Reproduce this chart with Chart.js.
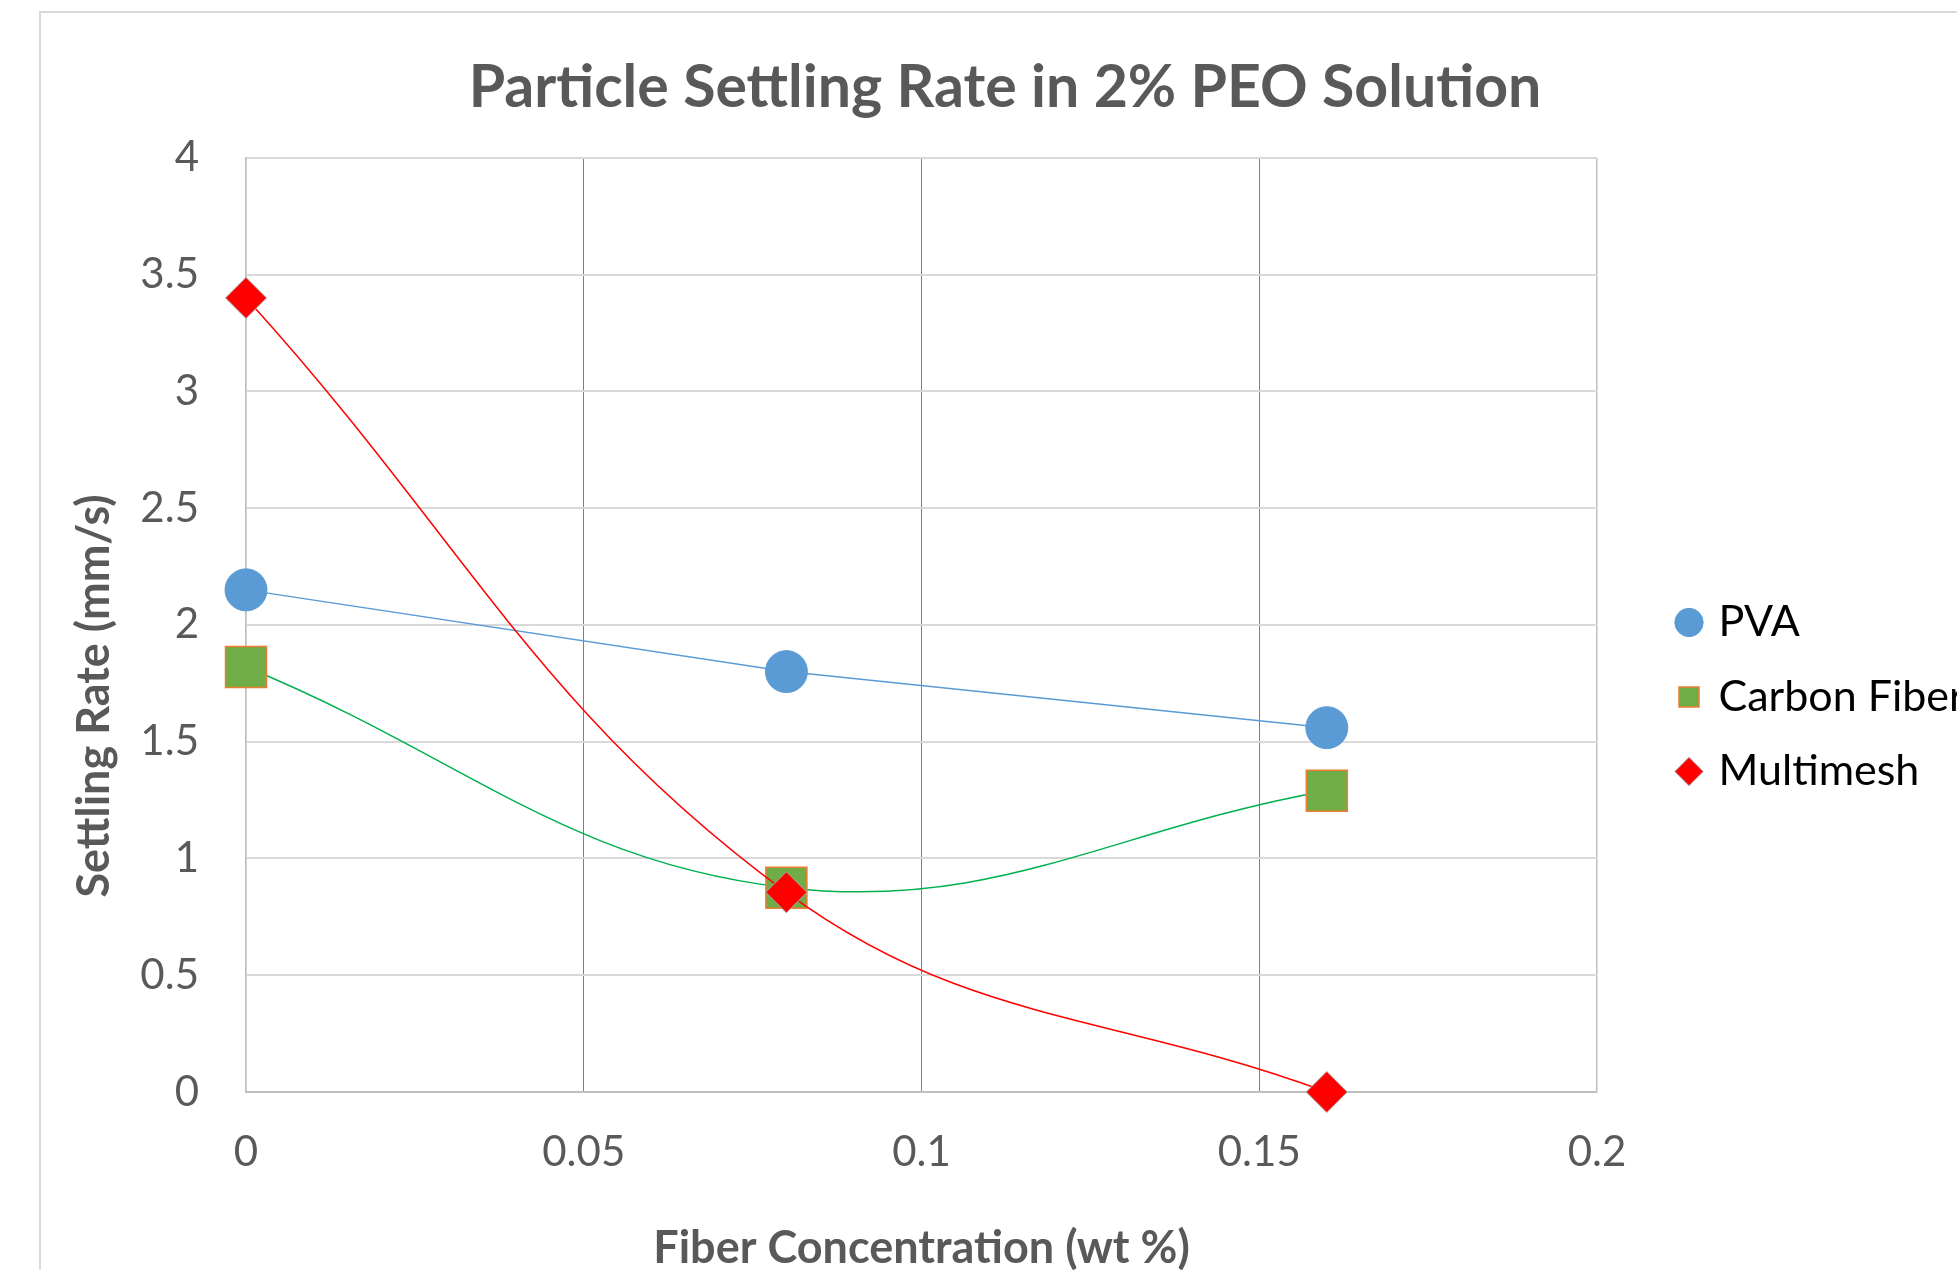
<!DOCTYPE html>
<html>
<head>
<meta charset="utf-8">
<title>Particle Settling Rate in 2% PEO Solution</title>
<script src="https://cdn.jsdelivr.net/npm/chart.js@4.4.1/dist/chart.umd.min.js"></script>
<style>
  html, body { margin: 0; padding: 0; background: #fff; overflow: hidden; width: 1957px; height: 1270px; }
  #frame { position: absolute; left: 39px; top: 11px; border-left: 2px solid #d9d9d9; border-top: 2px solid #d9d9d9; }
  canvas { display: block; }
</style>
</head>
<body>
<div id="frame"><canvas id="settlingChart" width="1928" height="1368"></canvas></div>
<script>
// fiber concentration (wt %) and settling rate (mm/s)
const concentrations = [0, 0.08, 0.16];
const pvaRates = [2.15, 1.80, 1.56];
const carbonFiberRates = [1.82, 0.875, 1.29];
const multimeshRates = [3.40, 0.855, 0];
const seriesNames = ['PVA', 'Carbon Fiber', 'Multimesh'];
const xTickLabels = ['0', '0.05', '0.1', '0.15', '0.2'];
const yTickLabels = ['0', '0.5', '1', '1.5', '2', '2.5', '3', '3.5', '4'];

Chart.defaults.font.family = 'Lato, "Open Sans", sans-serif';

function toPoints(values) {
    return concentrations.map((x, i) => ({ x: x, y: values[i] }));
}

// the y title sits lower than the axis middle in the original, pad the end of the string
const yTitle = 'Settling Rate (mm/s)' + '\u00A0'.repeat(13);

new Chart(document.getElementById('settlingChart'), {
    type: 'line',
    data: {
        datasets: [{
            label: seriesNames[0],
            data: toPoints(pvaRates),
            order: 3,
            clip: false,
            borderColor: '#5B9BD5',
            borderWidth: 1.5,
            tension: 0,
            pointStyle: 'circle',
            pointRadius: 21,
            pointBackgroundColor: '#5B9BD5',
            pointBorderColor: '#5B9BD5',
            pointBorderWidth: 1
        }, {
            label: seriesNames[1],
            data: toPoints(carbonFiberRates),
            order: 2,
            clip: false,
            borderColor: '#00B050',
            borderWidth: 1.5,
            tension: 0.4,
            pointStyle: 'rect',
            pointRadius: 29,
            pointBackgroundColor: '#70AD47',
            pointBorderColor: '#ED7D31',
            pointBorderWidth: 1.5
        }, {
            label: seriesNames[2],
            data: toPoints(multimeshRates),
            order: 1,
            clip: false,
            borderColor: '#FF0000',
            borderWidth: 1.5,
            tension: 0.4,
            pointStyle: 'rectRot',
            pointRadius: 20.5,
            pointBackgroundColor: '#FF0000',
            pointBorderColor: '#A6A6A6',
            pointBorderWidth: 1
        }]
    },
    options: {
        responsive: false,
        animation: false,
        layout: { padding: 0 },
        plugins: {
            title: {
                display: true,
                text: 'Particle Settling Rate in 2% PEO Solution',
                color: '#595959',
                font: { size: 59, weight: 'bold' },
                padding: { top: 40, bottom: 34 }
            },
            legend: {
                position: 'right',
                align: 'center',
                maxWidth: 319.5,
                labels: {
                    usePointStyle: true,
                    boxWidth: 16,
                    boxHeight: 20,
                    padding: 31.5,
                    color: '#000000',
                    font: { size: 43 },
                    sort: (a, b) => a.datasetIndex - b.datasetIndex
                }
            },
            tooltip: { enabled: false }
        },
        scales: {
            x: {
                type: 'linear',
                min: 0,
                max: 0.2,
                ticks: {
                    stepSize: 0.05,
                    padding: 35,
                    color: '#595959',
                    font: { size: 42 },
                    callback: (value, index) => xTickLabels[index]
                },
                grid: {
                    drawTicks: false,
                    color: ctx => (ctx.index === 0 || ctx.index === xTickLabels.length - 1) ? '#BFBFBF' : '#7F7F7F',
                    lineWidth: ctx => (ctx.index === 0 || ctx.index === xTickLabels.length - 1) ? 1.5 : 1
                },
                border: { color: '#BFBFBF', width: 2 },
                title: {
                    display: true,
                    text: 'Fiber Concentration (wt %)',
                    color: '#595959',
                    font: { size: 45, weight: 'bold' },
                    padding: { top: 0, bottom: 106 }
                },
                afterFit: scale => { scale.height = 289; }
            },
            y: {
                type: 'linear',
                min: 0,
                max: 4,
                ticks: {
                    stepSize: 0.5,
                    padding: 47,
                    color: '#595959',
                    font: { size: 42 },
                    callback: (value, index) => yTickLabels[index]
                },
                grid: { drawTicks: false, color: '#D9D9D9', lineWidth: 2 },
                border: { color: '#BFBFBF', width: 1.5 },
                title: {
                    display: true,
                    text: yTitle,
                    color: '#595959',
                    font: { size: 45, weight: 'bold' },
                    padding: { top: 26, bottom: 0 }
                },
                afterFit: scale => { scale.width = 205; }
            },
            spacer: {
                type: 'linear',
                axis: 'y',
                position: 'right',
                ticks: { display: false },
                grid: { display: false },
                border: { display: false },
                afterFit: scale => { scale.width = 52.5; }
            }
        }
    }
});
</script>
</body>
</html>
